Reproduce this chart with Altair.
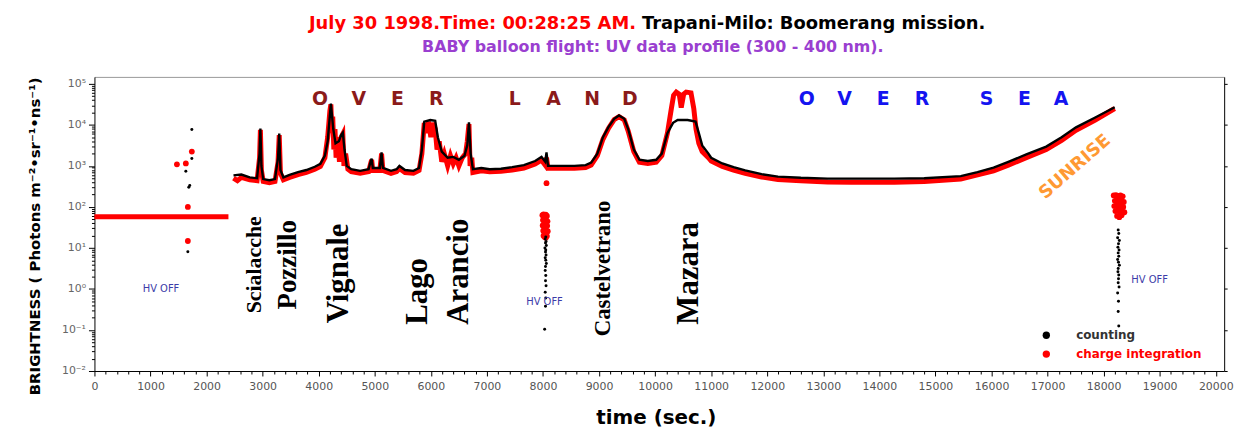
import altair as alt
import pandas as pd

# ---------------- data (time in s, log10 brightness) ----------------
counting_t = [2480, 2620, 2770, 2900, 2945, 2960, 2978, 3010, 3120, 3220, 3275, 3296, 3318, 3370,
              3480, 3630, 3780, 3930, 4030, 4110, 4160, 4217, 4260, 4300, 4360, 4400, 4430, 4460,
              4500, 4580, 4740, 4890, 4925, 4944, 4965, 5090, 5121, 5145, 5290, 5390, 5440, 5540,
              5690, 5790, 5840, 5883, 5990, 6078, 6125, 6195, 6300, 6400, 6500, 6600, 6650, 6680,
              6710, 6750, 6900, 7050, 7250, 7450, 7660, 7860, 7974, 8040, 8063, 8090, 8260, 8560,
              8760, 8860, 8970, 9070, 9170, 9270, 9356, 9450, 9520, 9620, 9720, 9870, 10020, 10120,
              10220, 10320, 10402, 10580, 10721, 10780, 10840, 10951, 11000, 11199, 11400, 11607,
              11900, 12191, 12600, 13077, 13500, 14265, 14800, 15452, 15750, 16037, 16300, 16621,
              16976, 17250, 17507, 17850, 18198]
counting_log = [2.77, 2.79, 2.72, 2.70, 3.30, 3.91, 3.00, 2.68, 2.65, 2.68, 3.20, 3.79, 2.90, 2.72,
                2.78, 2.85, 2.90, 2.98, 3.05, 3.25, 3.60, 4.52, 3.90, 3.55, 3.60, 3.75, 3.81, 3.40,
                3.00, 2.92, 2.88, 2.92, 3.10, 3.18, 2.95, 2.95, 3.33, 2.95, 2.88, 2.92, 3.00, 2.90,
                2.88, 2.95, 3.40, 4.08, 4.12, 4.10, 3.70, 3.35, 3.20, 3.22, 3.15, 3.25, 3.50, 4.06,
                3.30, 2.92, 2.95, 2.92, 2.93, 2.97, 3.02, 3.12, 3.22, 3.10, 3.33, 3.00, 3.00, 3.00,
                3.02, 3.08, 3.30, 3.70, 3.95, 4.15, 4.23, 4.15, 3.90, 3.40, 3.15, 3.12, 3.15, 3.30,
                3.80, 4.05, 4.12, 4.12, 4.08, 3.80, 3.50, 3.30, 3.20, 3.06, 2.97, 2.89,
                2.80, 2.74, 2.71, 2.69, 2.69, 2.69, 2.70, 2.75, 2.85, 2.96, 3.10, 3.28,
                3.47, 3.70, 3.94, 4.18, 4.43]

charge_t = [2480, 2550, 2620, 2770, 2900, 2945, 2960, 2978, 3010, 3120, 3220, 3275, 3296, 3318,
            3370, 3480, 3630, 3780, 3930, 4030, 4110, 4160, 4200, 4217, 4235, 4250, 4270, 4290,
            4310, 4340, 4370, 4400, 4430, 4450, 4480, 4520, 4580, 4740, 4890, 4925, 4944, 4965,
            5090, 5121, 5145, 5290, 5390, 5440, 5540, 5690, 5790, 5840, 5883, 5920, 5960, 6000,
            6040, 6078, 6110, 6150, 6195, 6240, 6300, 6350, 6400, 6450, 6500, 6560, 6620, 6650,
            6680, 6700, 6730, 6750, 6900, 7050, 7250, 7450, 7660, 7860, 7974, 8040, 8063, 8090,
            8260, 8560, 8760, 8860, 8970, 9070, 9170, 9270, 9356, 9450, 9520, 9620, 9720, 9870,
            10020, 10120, 10220, 10290, 10330, 10378, 10430, 10466, 10510, 10554, 10640, 10690,
            10730, 10780, 10840, 10951, 11000, 11199, 11400, 11607, 11900, 12191, 12600, 13077,
            13500, 14265, 14800, 15452, 15750, 16037, 16300, 16621, 16976, 17250, 17507, 17850,
            18198]
charge_log = [2.70, 2.64, 2.72, 2.66, 2.64, 3.20, 3.88, 2.90, 2.62, 2.59, 2.62, 3.10, 3.75, 2.82,
              2.66, 2.72, 2.79, 2.84, 2.92, 2.99, 3.20, 3.70, 4.35, 4.50, 3.80, 4.20, 3.40, 3.90,
              3.20, 3.70, 3.10, 3.70, 3.78, 3.00, 3.30, 2.92, 2.86, 2.82, 2.86, 3.05, 3.15, 2.89,
              2.89, 3.30, 2.89, 2.82, 2.86, 2.94, 2.84, 2.82, 2.89, 3.30, 4.05, 3.80, 4.08, 3.70,
              4.05, 3.90, 3.40, 3.60, 3.10, 3.30, 3.00, 3.25, 3.05, 3.20, 3.00, 3.20, 3.30, 3.60,
              4.02, 3.00, 3.20, 2.84, 2.88, 2.86, 2.87, 2.90, 2.95, 3.05, 3.14, 3.02, 3.20, 2.94,
              2.94, 2.94, 2.96, 3.02, 3.25, 3.65, 3.92, 4.13, 4.20, 4.12, 3.85, 3.35, 3.09, 3.06,
              3.09, 3.25, 3.80, 4.40, 4.72, 4.80, 4.75, 4.42, 4.75, 4.80, 4.78, 4.40,
              3.90, 3.55, 3.35, 3.20, 3.12, 2.99, 2.90, 2.82, 2.73, 2.67, 2.64, 2.61,
              2.60, 2.60, 2.62, 2.68, 2.78, 2.88, 3.02, 3.20, 3.40, 3.62, 3.87, 4.12,
              4.40]

# charge integration while HV off (flat level at the start)
charge_off_t = [0, 800, 1600, 2390]
charge_off_log = [1.76, 1.76, 1.76, 1.76]

# scattered points (HV off periods)
counting_pts_t = [1737, 1737, 1630, 1683, 1700, 1666,
                  8050, 8040, 8055, 8045, 8060, 8035, 8050, 8045, 8055, 8040, 8050, 8060, 8045, 8040,
                  8050, 8045, 8055, 8040, 8050, 8045, 8030,
                  18260, 18270, 18250, 18280, 18265, 18255, 18275, 18260, 18270, 18250, 18265, 18280,
                  18260, 18255, 18270, 18265, 18260, 18275, 18250, 18265, 18260, 18270]
counting_pts_log = [3.89, 3.18, 2.87, 2.48, 2.52, 0.91,
                    1.27, 1.22, 1.16, 1.12, 1.06, 1.00, 0.95, 0.90, 0.83, 0.76, 0.70, 0.62, 0.55, 0.45,
                    0.33, 0.20, 0.08, -0.08, -0.22, -0.42, -0.98,
                    1.44, 1.35, 1.25, 1.18, 1.10, 1.02, 0.95, 0.88, 0.80, 0.72, 0.65, 0.58,
                    0.50, 0.42, 0.34, 0.25, 0.15, 0.05, -0.10, -0.30, -0.55, -0.90]
charge_pts_t = [1737, 1630, 1471, 1666, 1666, 8063,
                7990, 8010, 8030, 8050, 8070, 8000, 8020, 8040, 8060, 8080, 7995, 8015, 8035, 8055,
                8075, 8005, 8025, 8045, 8065, 8085, 8010, 8030, 8050, 8070,
                18180, 18220, 18260, 18300, 18340, 18200, 18240, 18280, 18320, 18360, 18190, 18230,
                18270, 18310, 18350, 18210, 18250, 18290, 18330, 18370, 18240, 18280, 18320]
charge_pts_log = [3.35, 3.06, 3.04, 2.00, 1.17, 2.58,
                  1.80, 1.82, 1.79, 1.81, 1.78, 1.68, 1.66, 1.70, 1.67, 1.65, 1.55, 1.53, 1.57, 1.52,
                  1.54, 1.42, 1.40, 1.44, 1.39, 1.41, 1.30, 1.27, 1.25, 1.29,
                  2.28, 2.29, 2.27, 2.28, 2.26, 2.15, 2.17, 2.16, 2.14, 2.12, 2.02, 2.04,
                  2.03, 2.01, 2.00, 1.90, 1.92, 1.88, 1.90, 1.87, 1.78, 1.75, 1.80]

# place names (rotated labels)
place_names = ["Scialacche", "Pozzillo", "Vignale", "Lago", "Arancio", "Castelvetrano", "Mazara"]
place_t = [2853, 3455, 4359, 5777, 6503, 9073, 10597]
place_log = [0.59, 0.59, 0.38, -0.06, 0.42, 0.50, 0.38]
place_size = [22, 27, 31, 31, 31, 23, 31]

# spaced banner letters
land_letters = ["O", "V", "E", "R", "L", "A", "N", "D"]
land_t = [4022, 4714, 5405, 6096, 7496, 8187, 8878, 9551]
sea_letters = ["O", "V", "E", "R", "S", "E", "A"]
sea_t = [12705, 13379, 14070, 14761, 15913, 16586, 17242]
banner_log = 4.64

hv_t = [1187, 8027, 18819]
hv_log = [0.01, -0.33, 0.23]

x_ticks = list(range(0, 20001, 200))
decades = [0.01, 0.1, 1, 10, 100, 1000, 10000, 100000]
decade_labels = ["10⁻²", "10⁻¹", "10⁰", "10¹", "10²", "10³", "10⁴", "10⁵"]

# ---------------- build tables ----------------
def pw(v):
    return [10 ** e for e in v]

lines_red = pd.DataFrame({
    "t": charge_off_t + charge_t,
    "v": pw(charge_off_log) + pw(charge_log),
    "seg": ["off"] * len(charge_off_t) + ["main"] * len(charge_t),
})
lines_black = pd.DataFrame({"t": counting_t, "v": pw(counting_log)})
pts_black = pd.DataFrame({"t": counting_pts_t, "v": pw(counting_pts_log)})
pts_red = pd.DataFrame({"t": charge_pts_t, "v": pw(charge_pts_log)})
places = pd.DataFrame({"name": place_names, "t": place_t, "v": pw(place_log), "size": place_size})
land = pd.DataFrame({"ch": land_letters, "t": land_t, "v": [10 ** banner_log] * len(land_t)})
sea = pd.DataFrame({"ch": sea_letters, "t": sea_t, "v": [10 ** banner_log] * len(sea_t)})
hv = pd.DataFrame({"s": ["HV OFF"] * 3, "t": hv_t, "v": pw(hv_log)})
sunrise = pd.DataFrame({"s": ["SUNRISE"], "t": [17490], "v": [10 ** 2.97]})

XS = alt.Scale(domain=[0, 20150], nice=False, zero=False)
YS = alt.Scale(type="log", domain=[0.01, 10 ** 5.17], nice=False)

dec_test = " || ".join(f"datum.value == {d}" for d in decades)
y_label_expr = "".join(f"datum.value == {d} ? '{l}' : " for d, l in zip(decades, decade_labels)) + "''"

y_left = alt.Axis(
    values=sorted(set(decades + [k * 10 ** e for e in range(-2, 5) for k in range(2, 10)])),
    labelExpr=y_label_expr,
    tickSize={"condition": {"test": dec_test, "value": 6}, "value": 3},
    labelFont="DejaVu Sans", labelFontSize=11, labelColor="#666", labelPadding=3,
    labelOverlap=False, labelFlush=False,
    domainColor="black", tickColor="black", grid=False,
    title="BRIGHTNESS ( Photons m⁻²•sr⁻¹•ns⁻¹)",
    titleFont="DejaVu Sans", titleFontSize=15, titleFontWeight="bold", titleColor="black",
    titleX=-55, titleY=160, titleAngle=270, titleAlign="center", titleBaseline="alphabetic",
)
x_bottom = alt.Axis(
    values=x_ticks,
    labelExpr="datum.value % 1000 == 0 ? '' + datum.value : ''",
    tickSize={"condition": {"test": "datum.value % 1000 == 0", "value": 5}, "value": 3},
    labelFont="DejaVu Sans", labelFontSize=11, labelColor="#555", labelPadding=5,
    labelOverlap=False, labelFlush=False,
    domainColor="black", tickColor="black", grid=False,
    title="time (sec.)", titleFont="DejaVu Sans", titleFontSize=20, titleFontWeight="bold",
    titleColor="black", titleX=565, titleY=53, titleBaseline="alphabetic", titleAlign="center",
)
x_top = alt.Axis(orient="top", labels=False, ticks=False, title=None, domainColor="#999", grid=False)
y_right = alt.Axis(orient="right", labels=False, values=decades, tickSize=3, title=None,
                   domainColor="black", tickColor="black", grid=False)

red_line = alt.Chart(lines_red).mark_line(color="#ff0000", strokeWidth=5).encode(
    x=alt.X("t:Q", scale=XS, axis=x_bottom),
    y=alt.Y("v:Q", scale=YS, axis=y_left),
    detail="seg:N",
)
black_line = alt.Chart(lines_black).mark_line(color="black", strokeWidth=2.4).encode(
    x=alt.X("t:Q", scale=XS, axis=x_top),
    y=alt.Y("v:Q", scale=YS, axis=y_right),
)
red_pts = alt.Chart(pts_red).mark_circle(color="#ff0000", size=34, opacity=1).encode(
    x=alt.X("t:Q", scale=XS, axis=None), y=alt.Y("v:Q", scale=YS, axis=None))
black_pts = alt.Chart(pts_black).mark_circle(color="black", size=9, opacity=1).encode(
    x=alt.X("t:Q", scale=XS, axis=None), y=alt.Y("v:Q", scale=YS, axis=None))

place_txt = alt.Chart(places).mark_text(
    font="Liberation Serif", fontWeight="bold", angle=270, align="center", baseline="middle", color="black"
).encode(
    x=alt.X("t:Q", scale=XS, axis=None), y=alt.Y("v:Q", scale=YS, axis=None),
    text="name:N", size=alt.Size("size:Q", scale=None, legend=None),
)
land_txt = alt.Chart(land).mark_text(font="DejaVu Sans", fontWeight="bold", fontSize=19,
                                     color="#8b1a1a", baseline="middle").encode(
    x=alt.X("t:Q", scale=XS, axis=None), y=alt.Y("v:Q", scale=YS, axis=None), text="ch:N")
sea_txt = alt.Chart(sea).mark_text(font="DejaVu Sans", fontWeight="bold", fontSize=19,
                                   color="#1414f0", baseline="middle").encode(
    x=alt.X("t:Q", scale=XS, axis=None), y=alt.Y("v:Q", scale=YS, axis=None), text="ch:N")
hv_txt = alt.Chart(hv).mark_text(font="DejaVu Sans", fontSize=10, color="#3c3ca8", baseline="middle").encode(
    x=alt.X("t:Q", scale=XS, axis=None), y=alt.Y("v:Q", scale=YS, axis=None), text="s:N")
sun_txt = alt.Chart(sunrise).mark_text(font="DejaVu Sans", fontWeight="bold", fontSize=18,
                                       color="#ff9933", angle=319, baseline="middle").encode(
    x=alt.X("t:Q", scale=XS, axis=None), y=alt.Y("v:Q", scale=YS, axis=None), text="s:N")

# titles and legend (pixel placed annotations)
def note(s, x, y, **kw):
    return alt.Chart(pd.DataFrame({"s": [s]})).mark_text(**kw).encode(
        x=alt.value(x), y=alt.value(y), text="s:N")

title_red = note("July 30 1998.Time: 00:28:25 AM.", 545, -53, align="right", baseline="middle",
                 font="DejaVu Sans", fontWeight="bold", fontSize=18, color="#ff0000")
title_black = note("Trapani-Milo: Boomerang mission.", 551, -53, align="left", baseline="middle",
                   font="DejaVu Sans", fontWeight="bold", fontSize=18, color="black")
subtitle = note("BABY balloon flight: UV data profile (300 - 400 nm).", 562, -30, align="center",
                baseline="middle", font="DejaVu Sans", fontWeight="bold", fontSize=16, color="#9a3fd0")

leg_black_dot = alt.Chart(pd.DataFrame({"s": ["counting"]})).mark_circle(color="black", size=55, opacity=1).encode(
    x=alt.value(958), y=alt.value(260))
leg_red_dot = alt.Chart(pd.DataFrame({"s": ["charge integration"]})).mark_circle(color="#ff0000", size=55, opacity=1).encode(
    x=alt.value(958), y=alt.value(279))
leg_black_txt = note("counting", 988, 260, align="left", baseline="middle", font="DejaVu Sans",
                     fontWeight="bold", fontSize=12, color="#333")
leg_red_txt = note("charge integration", 988, 279, align="left", baseline="middle", font="DejaVu Sans",
                   fontWeight="bold", fontSize=12, color="#ff0000")

chart = alt.layer(
    red_line, black_line, red_pts, black_pts, place_txt, land_txt, sea_txt, hv_txt, sun_txt,
    title_red, title_black, subtitle, leg_black_dot, leg_red_dot, leg_black_txt, leg_red_txt,
).resolve_scale(x="shared", y="shared").resolve_axis(x="independent", y="independent").properties(
    width=1137, height=296, autosize=alt.AutoSizeParams(type="none"),
    padding={"left": 87, "top": 68, "right": 27, "bottom": 56},
    background="white",
).configure_view(stroke=None)

chart.save("out.html", embed_options={"renderer": "svg", "actions": False})
